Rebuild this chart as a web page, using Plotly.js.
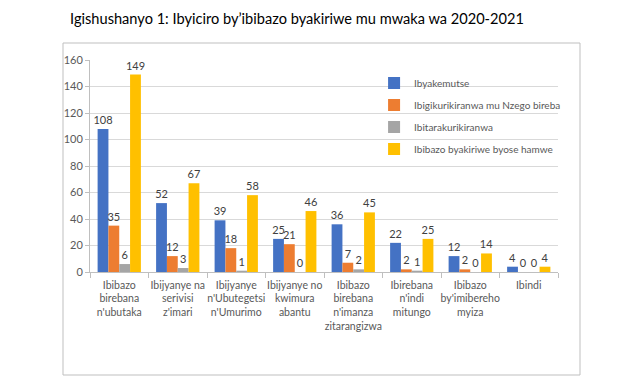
<!DOCTYPE html>
<html><head><meta charset="utf-8">
<script src="https://cdn.plot.ly/plotly-3.0.1.min.js"></script>
<style>html,body{margin:0;padding:0;background:#fff}#chart{width:618px;height:390px}</style>
</head><body><div id="chart"></div>
<script>
const categories = [
  "Ibibazo<br>birebana<br>n'ubutaka",
  "Ibijyanye na<br>serivisi<br>z'imari",
  "Ibijyanye<br>n'Ubutegetsi<br>n'Umurimo",
  "Ibijyanye no<br>kwimura<br>abantu",
  "Ibibazo<br>birebana<br>n'imanza<br>zitarangizwa",
  "Ibirebana<br>n'indi<br>mitungo",
  "Ibibazo<br>by'imibereho<br>myiza",
  "Ibindi"
];
const seriesNames = ["Ibyakemutse", "Ibigikurikiranwa mu Nzego bireba", "Ibitarakurikiranwa", "Ibibazo byakiriwe byose hamwe"];
const ibyakemutse = [108, 52, 39, 25, 36, 22, 12, 4];
const ibigikurikiranwa = [35, 12, 18, 21, 7, 2, 2, 0];
const ibitarakurikiranwa = [6, 3, 1, 0, 2, 1, 0, 0];
const byoseHamwe = [149, 67, 58, 46, 45, 25, 14, 4];
const colors = ["#4472C4", "#ED7D31", "#A5A5A5", "#FFC000"];
const allSeries = [ibyakemutse, ibigikurikiranwa, ibitarakurikiranwa, byoseHamwe];

const font = "Lato, 'Open Sans', sans-serif";
const traces = allSeries.map((vals, i) => ({
  type: "bar",
  name: seriesNames[i],
  x: categories,
  y: vals,
  marker: {color: colors[i]},
  text: vals.map(String),
  textposition: "outside",
  constraintext: "none",
  textfont: {family: font, size: 11, color: "#404040"},
  cliponaxis: false,
  legendgroup: "g" + i
}));

const layout = {
  width: 618, height: 390,
  margin: {l: 90, r: 60, t: 60, b: 118},
  paper_bgcolor: "#fff", plot_bgcolor: "#fff",
  font: {family: font, size: 11, color: "#595959"},
  title: {text: "Igishushanyo 1: Ibyiciro by’ibibazo byakiriwe mu mwaka wa 2020-2021",
          font: {family: font, size: 14.6, color: "#000"},
          x: 297/618, xanchor: "center", xref: "container", y: 1 - 19/390, yanchor: "middle", yref: "container"},
  bargap: 0.26, bargroupgap: 0,
  showlegend: true,
  legend: {x: 0.607, y: 0.96, xanchor: "left", yanchor: "top", bgcolor: "rgba(0,0,0,0)",
           font: {family: font, size: 10, color: "#595959"}, tracegroupgap: 3},
  xaxis: {type: "category", showline: true, linecolor: "#BFBFBF", linewidth: 1,
          ticks: "outside", tickson: "boundaries", ticklen: 5, tickcolor: "#BFBFBF",
          tickangle: 0, automargin: false, ticklabelstandoff: 3,
          tickfont: {family: font, size: 10.5, color: "#595959"}, showgrid: false},
  yaxis: {range: [0, 160], dtick: 20, showline: true, linecolor: "#BFBFBF", linewidth: 1,
          ticks: "outside", ticklen: 4, tickcolor: "#BFBFBF",
          gridcolor: "#D9D9D9", gridwidth: 1, zeroline: false,
          tickfont: {family: font, size: 11, color: "#595959"}},
  shapes: [{type: "rect", xref: "paper", yref: "paper",
            x0: (63-90)/468, x1: (580-90)/468, y0: (272-375)/212, y1: (272-43)/212,
            line: {color: "#BFBFBF", width: 1}, fillcolor: "rgba(0,0,0,0)", layer: "below"}]
};
Plotly.newPlot("chart", traces, layout, {displayModeBar: false, staticPlot: true});
</script></body></html>
